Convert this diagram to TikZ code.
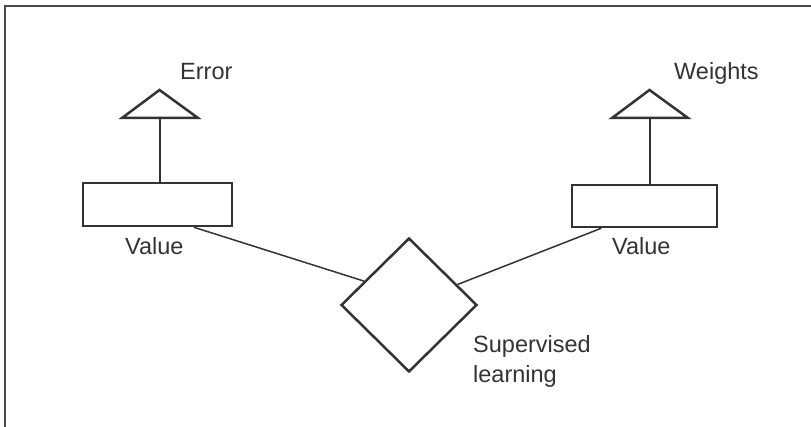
\documentclass[tikz,border=0pt]{standalone}
\usepackage{fontspec}
\setmainfont{Liberation Sans}
\usetikzlibrary{shapes.geometric,calc}
\definecolor{ink}{HTML}{333333}
\definecolor{frame}{HTML}{4A4A4A}
\begin{document}
\begin{tikzpicture}[x=1pt,y=-1pt,
  box/.style={draw=ink,line width=2.5pt,rectangle,inner sep=0pt},
  dia/.style={draw=ink,line width=2.5pt,diamond,inner sep=0pt,minimum width=136pt,minimum height=134pt},
  tri/.style={draw=ink,line width=2.5pt,line join=miter},
  conn/.style={draw=ink,line width=1.5pt},
  lbl/.style={inner sep=0pt,text=ink,font=\fontsize{23.5pt}{28pt}\selectfont}]
\useasboundingbox[fill=white] (0,0) rectangle (811,427);
% frame
\draw[frame,line width=2.8pt] (4,6) -- (811,6);
\draw[frame,line width=2.8pt] (5,5) -- (5,427);
% shapes
\node[box,minimum width=149pt,minimum height=43pt] (lrect) at (157.5,204.5) {};
\node[box,minimum width=145pt,minimum height=42pt] (rrect) at (644.5,206) {};
\node[dia] (diam) at (409,305) {};
\draw[tri] (122,118) -- (159.5,90) -- (198,118) -- cycle;
\coordinate (ltri) at (160,118);
\draw[tri] (612,118) -- (649.5,90) -- (688,118) -- cycle;
\coordinate (rtri) at (650,118);
% connectors
\draw[conn] (ltri) -- (ltri |- lrect.north);
\draw[conn] (rtri) -- (rtri |- rrect.north);
\draw[conn] ($(lrect.south west)!0.74!(lrect.south east)$) -- ($(diam.west)!0.35!(diam.north)$);
\draw[conn] ($(rrect.south west)!0.207!(rrect.south east)$) -- ($(diam.east)!0.3!(diam.north)$);
% labels
\node[lbl,anchor=base west] (lerr) at (180,80) {Error};
\node[lbl,anchor=base west] (lwgt) at (674,80) {Weights};
\node[lbl,anchor=base west] (lval) at (125,255) {Value};
\node[lbl,anchor=base west] (rval) at (612,255) {Value};
\node[lbl,anchor=base west] (lsup) at (473,353) {Supervised};
\node[lbl,anchor=base west] (llearn) at (473,382) {learning};
\end{tikzpicture}
\end{document}
